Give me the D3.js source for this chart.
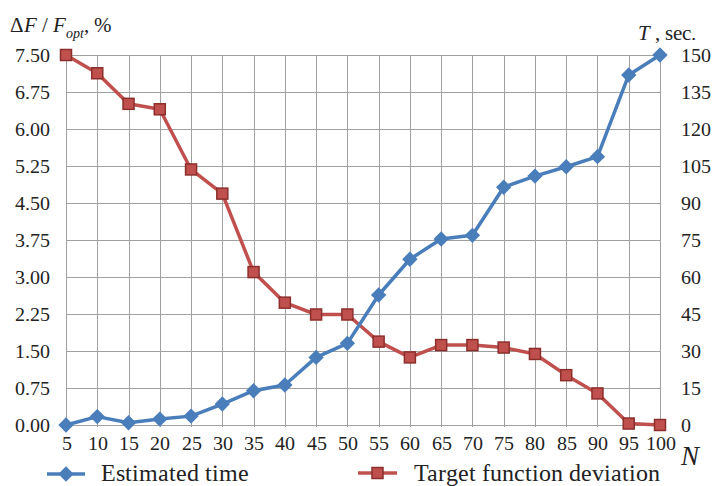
<!DOCTYPE html>
<html><head><meta charset="utf-8">
<script src="https://cdn.jsdelivr.net/npm/d3@7/dist/d3.min.js"></script>
<style>
@font-face { font-family: "ChartSerif"; font-style: normal; font-weight: 400; src: local("Liberation Serif"), local("LiberationSerif"), local("Times New Roman"); }
@font-face { font-family: "ChartSerif"; font-style: italic; font-weight: 400; src: local("Liberation Serif Italic"), local("LiberationSerif-Italic"), local("Times New Roman Italic"); }
</style>
</head><body style="margin:0">
<svg id="chart" width="713" height="486"></svg>
<script>
const categories = [5,10,15,20,25,30,35,40,45,50,55,60,65,70,75,80,85,90,95,100];
const estimatedTime = [0,3.4,0.9,2.4,3.6,8.5,13.9,16.2,27.4,33.1,52.7,67.2,75.4,76.9,96.4,100.9,104.7,108.8,141.9,150];
const targetDeviation = [7.50,7.13,6.51,6.40,5.18,4.69,3.10,2.48,2.24,2.24,1.69,1.37,1.62,1.62,1.57,1.44,1.01,0.64,0.03,0.00];
const leftTicks = [0,0.75,1.5,2.25,3,3.75,4.5,5.25,6,6.75,7.5];
const rightTicks = [0,15,30,45,60,75,90,105,120,135,150];
const seriesNames = ["Estimated time", "Target function deviation"];

const FONT = '"ChartSerif", "Liberation Serif", "Times New Roman", Tinos';
const svg = d3.select("#chart");
const x0 = 66, x1 = 660, yTop = 55, yBot = 425;

const x = d3.scalePoint().domain(categories).range([x0, x1]);
const yL = d3.scaleLinear().domain([0, 7.5]).range([yBot, yTop]);
const yR = d3.scaleLinear().domain([0, 150]).range([yBot, yTop]);

const blue = "#4a7ebb", red = "#c0504d", redDark = "#8c2f2c", grid = "#a0a0a0", ink = "#222";

function txt(sel) { return sel.style("font-family", FONT); }

// horizontal grid
svg.append("g").selectAll("line").data(leftTicks).join("line")
  .attr("x1", x0).attr("x2", x1 + 1)
  .attr("y1", d => Math.round(yL(d)) + 0.5).attr("y2", d => Math.round(yL(d)) + 0.5)
  .attr("stroke", grid).attr("stroke-width", 1);
// vertical grid
svg.append("g").selectAll("line").data(categories).join("line")
  .attr("x1", d => Math.round(x(d)) + 0.5).attr("x2", d => Math.round(x(d)) + 0.5)
  .attr("y1", yTop).attr("y2", yBot + 2)
  .attr("stroke", grid).attr("stroke-width", 1);

function styleAxis(g, dy) {
  g.attr("font-family", null).attr("font-size", 20);
  g.select(".domain").remove();
  txt(g.selectAll("text").attr("fill", ink).attr("dy", dy));
}

const axL = d3.axisLeft(yL).tickValues(leftTicks).tickFormat(d3.format(".2f")).tickSize(0).tickPadding(0);
styleAxis(svg.append("g").attr("transform", "translate(50,0)").call(axL), "0.33em");

const axR = d3.axisRight(yR).tickValues(rightTicks).tickSize(0).tickPadding(0);
styleAxis(svg.append("g").attr("transform", "translate(681,0)").call(axR), "0.33em");

const axB = d3.axisBottom(x).tickSize(0).tickPadding(0);
styleAxis(svg.append("g").attr("transform", "translate(0,437)").call(axB), "0.66em");

// lines
const lineR = d3.line().x((d, i) => x(categories[i])).y(d => yL(d));
const lineB = d3.line().x((d, i) => x(categories[i])).y(d => yR(d));

svg.append("path").datum(targetDeviation).attr("d", lineR)
  .attr("fill", "none").attr("stroke", red).attr("stroke-width", 3.5).attr("stroke-linejoin", "round");
svg.append("g").selectAll("rect").data(targetDeviation).join("rect")
  .attr("x", (d, i) => x(categories[i]) - 5.5).attr("y", d => yL(d) - 5.5)
  .attr("width", 11).attr("height", 11)
  .attr("fill", red).attr("stroke", redDark).attr("stroke-width", 1.5);

svg.append("path").datum(estimatedTime).attr("d", lineB)
  .attr("fill", "none").attr("stroke", blue).attr("stroke-width", 3.5).attr("stroke-linejoin", "round");
const diamond = d3.symbol().type(d3.symbolDiamond2).size(150);
svg.append("g").selectAll("path").data(estimatedTime).join("path")
  .attr("d", diamond)
  .attr("transform", (d, i) => `translate(${x(categories[i])},${yR(d)})`)
  .attr("fill", blue);

// axis titles
const tl = txt(svg.append("text").attr("x", 10).attr("y", 32).attr("font-size", 21).attr("fill", ink));
tl.append("tspan").text("Δ");
tl.append("tspan").attr("font-style", "italic").text("F");
tl.append("tspan").text(" / ");
tl.append("tspan").attr("font-style", "italic").text("F");
tl.append("tspan").attr("font-style", "italic").attr("font-size", 14).attr("dy", 6).text("opt");
tl.append("tspan").attr("dy", -6).text(", %");

const tr = txt(svg.append("text").attr("x", 638).attr("y", 40).attr("font-size", 21).attr("fill", ink));
tr.append("tspan").attr("font-style", "italic").text("T");
tr.append("tspan").text(" , sec.");

txt(svg.append("text").attr("x", 681).attr("y", 465).attr("font-size", 27)
  .attr("font-style", "italic").attr("fill", ink)).text("N");

// legend
const legend = [
  {name: seriesNames[0], lx1: 47, lx2: 85, y: 474, tx: 101, type: "diamond"},
  {name: seriesNames[1], lx1: 358, lx2: 397, y: 473, tx: 414, type: "square"}
];
legend.forEach(l => {
  const g = svg.append("g");
  g.append("line").attr("x1", l.lx1).attr("x2", l.lx2).attr("y1", l.y).attr("y2", l.y)
    .attr("stroke", l.type === "diamond" ? blue : red).attr("stroke-width", 3.5);
  const cx = (l.lx1 + l.lx2) / 2;
  if (l.type === "diamond") {
    g.append("path").attr("d", diamond).attr("transform", `translate(${cx},${l.y})`).attr("fill", blue);
  } else {
    g.append("rect").attr("x", cx - 5.5).attr("y", l.y - 5.5).attr("width", 11).attr("height", 11)
      .attr("fill", red).attr("stroke", redDark).attr("stroke-width", 1.5);
  }
  txt(g.append("text").attr("x", l.tx).attr("y", 481).attr("font-size", 24).attr("fill", ink)).text(l.name);
});
</script>
</body></html>
